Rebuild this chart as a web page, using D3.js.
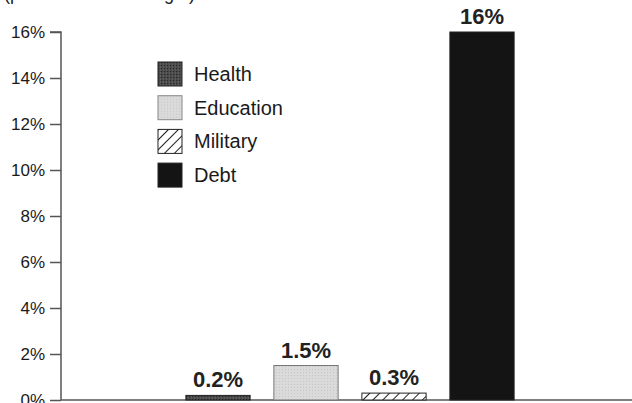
<!DOCTYPE html>
<html>
<head>
<meta charset="utf-8">
<script src="https://cdn.jsdelivr.net/npm/d3@7"></script>
<style>
  body { margin: 0; background: #fff; }
  svg { display: block; font-family: 'Liberation Sans', Arial, sans-serif; }
</style>
</head>
<body>
<div id="chart"></div>
<script>
const categories = ['Health', 'Education', 'Military', 'Debt']
const values = [0.2, 1.5, 0.3, 16]
const valueLabels = ['0.2%', '1.5%', '0.3%', '16%']
const yTicks = [0, 2, 4, 6, 8, 10, 12, 14, 16]
const fills = ['url(#health)', 'url(#education)', 'url(#military)', '#141414']

const width = 632
const height = 403

const svg = d3.select('#chart').append('svg')
  .attr('width', width)
  .attr('height', height)

// patterns for the scanned textures
const defs = svg.append('defs')
const health = defs.append('pattern').attr('id', 'health')
  .attr('patternUnits', 'userSpaceOnUse').attr('width', 3).attr('height', 3)
health.append('rect').attr('width', 3).attr('height', 3).attr('fill', '#4a4a4a')
health.append('rect').attr('width', 1).attr('height', 1).attr('fill', '#262626')
health.append('rect').attr('x', 2).attr('y', 1.5).attr('width', 1).attr('height', 1).attr('fill', '#707070')

const edu = defs.append('pattern').attr('id', 'education')
  .attr('patternUnits', 'userSpaceOnUse').attr('width', 3).attr('height', 3)
edu.append('rect').attr('width', 3).attr('height', 3).attr('fill', '#dadada')
edu.append('rect').attr('width', 1).attr('height', 1).attr('fill', '#c6c6c6')

const mil = defs.append('pattern').attr('id', 'military')
  .attr('patternUnits', 'userSpaceOnUse').attr('width', 7).attr('height', 7)
  .attr('patternTransform', 'rotate(45)')
mil.append('rect').attr('width', 7).attr('height', 7).attr('fill', '#fff')
mil.append('line').attr('x1', 0).attr('y1', 0).attr('x2', 0).attr('y2', 7)
  .attr('stroke', '#222').attr('stroke-width', 2)

// scales
const x = d3.scaleBand()
  .domain(categories)
  .range([174, 526])
  .paddingInner(0.27)
  .paddingOuter(0.135)

const y = d3.scaleLinear()
  .domain([0, 16])
  .range([400, 32])

// subtitle, cut off at the top edge as in the scan
svg.append('text')
  .attr('x', 4)
  .attr('y', 0)
  .style('font-size', '18px')
  .attr('fill', '#222')
  .text('(percent of total budget)')

// y axis
const yAxis = svg.append('g')
  .attr('transform', 'translate(61,0)')
  .call(d3.axisLeft(y).tickValues(yTicks).tickSize(11).tickPadding(5).tickFormat(d => d + '%'))
yAxis.select('.domain').attr('stroke', '#555').attr('stroke-width', 1.5)
  .attr('d', `M-11,${y(16)}H0V${y(0)}`)
yAxis.selectAll('.tick line').attr('stroke', '#555').attr('stroke-width', 1.5)
yAxis.selectAll('.tick text')
  .style('font-size', '17px')
  .style('font-family', "'Liberation Sans', Arial, sans-serif")
  .attr('fill', '#1a1a1a')

// baseline
svg.append('line')
  .attr('x1', 61).attr('x2', width)
  .attr('y1', y(0)).attr('y2', y(0))
  .attr('stroke', '#555').attr('stroke-width', 1.5)

// bars
svg.selectAll('.bar')
  .data(categories)
  .join('rect')
  .attr('class', 'bar')
  .attr('x', d => x(d))
  .attr('y', (d, i) => y(values[i]))
  .attr('width', x.bandwidth())
  .attr('height', (d, i) => y(0) - y(values[i]))
  .attr('fill', (d, i) => fills[i])
  .attr('stroke', (d, i) => i === 1 ? '#777' : '#222')
  .attr('stroke-width', 1)

// value labels
svg.selectAll('.value')
  .data(categories)
  .join('text')
  .attr('class', 'value')
  .attr('x', d => x(d) + x.bandwidth() / 2)
  .attr('y', (d, i) => y(values[i]) - 8)
  .attr('text-anchor', 'middle')
  .style('font-size', '22px')
  .style('font-weight', 'bold')
  .attr('fill', '#222')
  .text((d, i) => valueLabels[i])

// legend
const legend = svg.append('g').attr('transform', 'translate(158,62)')
const item = legend.selectAll('g')
  .data(categories)
  .join('g')
  .attr('transform', (d, i) => `translate(0,${i * 33.7})`)
item.append('rect')
  .attr('width', 24).attr('height', 24)
  .attr('fill', (d, i) => fills[i])
  .attr('stroke', (d, i) => i === 1 ? '#888' : '#222')
item.append('text')
  .attr('x', 36).attr('y', 19)
  .style('font-size', '20px')
  .attr('fill', '#1a1a1a')
  .text(d => d)
</script>
</body>
</html>
